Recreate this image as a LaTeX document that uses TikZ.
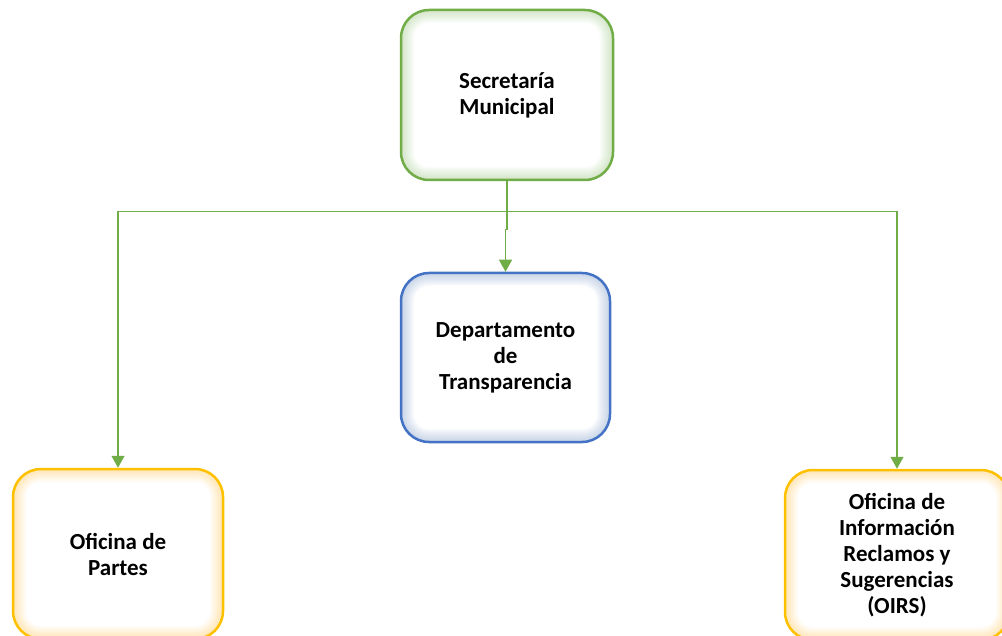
\documentclass[tikz,border=0pt]{standalone}
\usepackage{fontspec}
\setmainfont{Carlito}
\usetikzlibrary{arrows.meta}

\definecolor{secgreen}{HTML}{70AD47}
\definecolor{depblue}{HTML}{4472C4}
\definecolor{ofiyellow}{HTML}{FFC000}

\tikzset{
	unit/.style = {draw = #1, line width = 2.5pt, rounded corners = 28pt, fill = white,
		minimum width = 210pt, minimum height = 170pt, inner sep = 0pt, align = center,
		font = \fontsize{23}{26}\selectfont\bfseries,
		path picture = {
			\foreach \w in {2, 4, ..., 26}
				\draw [#1, line width = \w pt, opacity = 0.025, rounded corners = 28pt]
					(path picture bounding box.south west) rectangle (path picture bounding box.north east);
		}},
	link/.style = {secgreen, line width = 1.3pt},
}

\begin{document}
\begin{tikzpicture}[x = 1pt, y = -1pt, > = {Triangle[width = 13pt, length = 12pt]}]

	\clip (0, 0) rectangle (1002, 636);

	% The boxes

	\node [unit = secgreen, minimum width = 212pt] (sec) at (507, 95) {Secretaría\\Municipal};
	\node [unit = depblue, minimum width = 209pt, minimum height = 169pt] (dep) at (505.5, 357.5) {Departamento\\de\\Transparencia};
	\node [unit = ofiyellow] (partes) at (118, 554) {Oficina de\\Partes};
	\node [unit = ofiyellow, minimum width = 224pt] (oirs) at (897, 555) {Oficina de\\Información\\Reclamos y\\Sugerencias\\(OIRS)};

	% Connectors

	\coordinate (split) at ([yshift = -30pt] sec.south);

	\begin{scope}[link, ->]

		\draw (sec.south) -- (split) -| (partes.north);
		\draw (split) -| (oirs.north);
		\draw (split) -- ++(0, 18) -| (dep.north);

	\end{scope}

\end{tikzpicture}
\end{document}
